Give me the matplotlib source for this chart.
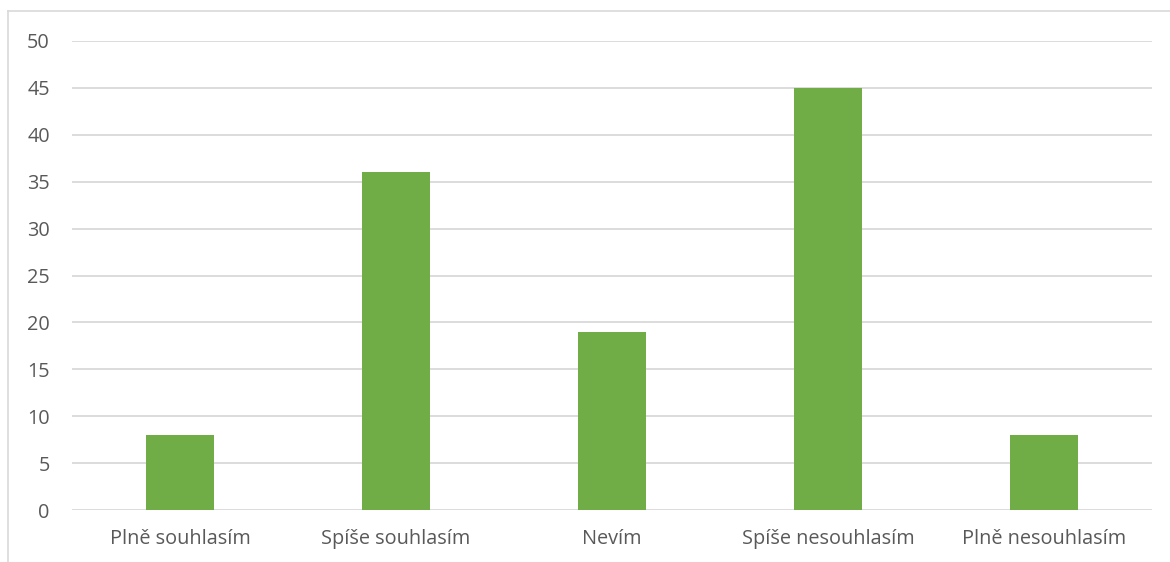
import matplotlib
matplotlib.use("Agg")
import matplotlib.pyplot as plt
from matplotlib.lines import Line2D

kategorie = ["Plně souhlasím", "Spíše souhlasím", "Nevím", "Spíše nesouhlasím", "Plně nesouhlasím"]
hodnoty = [8, 36, 19, 45, 8]
osa_y = [0, 5, 10, 15, 20, 25, 30, 35, 40, 45, 50]

plt.rcParams['font.family'] = ['Open Sans', 'DejaVu Sans']

W, H = 1170, 562
fig = plt.figure(figsize=(W / 100, H / 100), dpi=100)
ax = fig.add_axes([72 / W, (H - 510) / H, (1152 - 72) / W, (510 - 41) / H])

x = list(range(len(kategorie)))
ax.bar(x, hodnoty, width=0.312, color="#70AD47", zorder=3)

ax.set_xlim(-0.5, len(kategorie) - 0.5)
ax.set_ylim(0, 50)
ax.set_yticks(osa_y)
ax.set_xticks(x)
ax.set_xticklabels(kategorie)
ax.grid(axis="y", color="#D9D9D9", linewidth=1.3, zorder=0)
ax.tick_params(axis="both", length=0, colors="#595959", labelsize=14.3)
ax.tick_params(axis="y", pad=16)
ax.tick_params(axis="x", pad=14)
for s in ax.spines.values():
    s.set_visible(False)

# ramecek grafu (jen levy a horni okraj)
fig.add_artist(Line2D([8 / W, 8 / W], [0, 1 - 11 / H], transform=fig.transFigure, color="#D9D9D9", linewidth=1.2))
fig.add_artist(Line2D([8 / W, 1], [1 - 11 / H, 1 - 11 / H], transform=fig.transFigure, color="#D9D9D9", linewidth=1.2))

fig.savefig("out.png", dpi=100)
